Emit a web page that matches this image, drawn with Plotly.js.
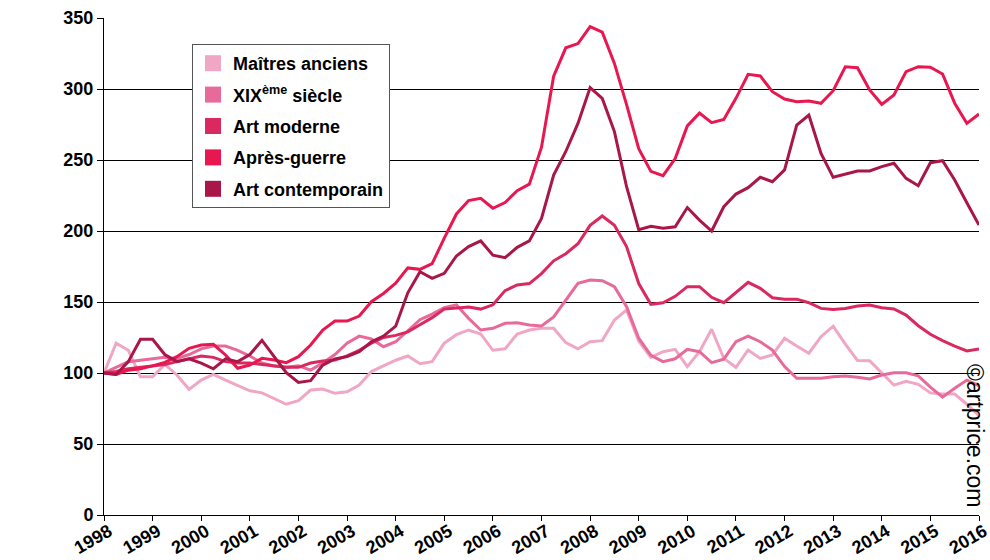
<!DOCTYPE html>
<html>
<head>
<meta charset="utf-8">
<script src="https://cdn.plot.ly/plotly-3.0.1.min.js"></script>
<style>
html,body{margin:0;padding:0;background:#fff;}
#chart{width:990px;height:560px;}
</style>
</head>
<body>
<div id="chart"></div>
<script>
// Quarterly index (base 100 = 1998)
const quarters = [
1998,1998.25,1998.5,1998.75,1999,1999.25,1999.5,1999.75,
2000,2000.25,2000.5,2000.75,2001,2001.25,2001.5,2001.75,
2002,2002.25,2002.5,2002.75,2003,2003.25,2003.5,2003.75,
2004,2004.25,2004.5,2004.75,2005,2005.25,2005.5,2005.75,
2006,2006.25,2006.5,2006.75,2007,2007.25,2007.5,2007.75,
2008,2008.25,2008.5,2008.75,2009,2009.25,2009.5,2009.75,
2010,2010.25,2010.5,2010.75,2011,2011.25,2011.5,2011.75,
2012,2012.25,2012.5,2012.75,2013,2013.25,2013.5,2013.75,
2014,2014.25,2014.5,2014.75,2015,2015.25,2015.5,2015.75,
2016];

const seriesNames = ["Maîtres anciens","XIX<sup>ème</sup> siècle","Art moderne","Après-guerre","Art contemporain"];
const seriesColors = ["#f0a6c5","#e86a9b","#d9295f","#e8174f","#a91649"];

const maitresAnciens = [100,121,116,97.4,97.4,106,98.6,88.5,95,99,
95,91.5,87.5,86,82,78,80.5,88,88.7,85.7,
86.8,91.5,101,105,109,112,106.5,108,121,127,
130.3,127.5,116,117,127.5,130.3,131.5,131.5,121.4,117,
122,122.8,137.3,144.4,122.5,111,115,116.7,104.5,115,
130.8,110.3,104,116.2,110.3,112.7,124.4,119,113.9,125.6,
133,120.3,108.8,108.7,100,91.5,94.2,92,86,85.2,
85.2,78,70];

const xixSiecle = [100,104,108,109,110,111,110,113,117,119,
119,116,112,107,105,104,105,102,107,113,
121,126,124,118.5,122,129.5,137.5,141.5,146,148,
138.5,130.3,131.5,135,135.4,133.8,133.1,139.5,151.4,163.2,
165.5,165,160.8,146.7,124.5,112.5,108,110,116.7,115,
107.3,109.7,122,126,122,116.2,104.5,96.3,96.3,96.3,
97.4,97.9,97,95.8,98.6,100.2,100.2,98,90,83,
89.2,95,91];

const artModerne = [100,101,103,104,105,106,108,110,112,111,
108,107,107,106,105,104,104,107,108.5,109.2,
112,116,121,125,126.5,129,134,139,145,146,
146.5,145,148,158,162,163,170,179,184,191,
204,210.6,204,189,163,148.4,149.5,154,160.8,160.8,
153.3,149.5,156.5,163.8,159.6,153,152,152,149.5,145.5,
144.8,145.5,147.2,147.9,146,145.1,140.8,133.3,127.3,122.8,
119,115.5,116.9];

const apresGuerre = [100,99,102,103,105,107.5,111.5,117.4,119.7,120.2,
112.7,103.3,105.6,110.3,109.2,107.3,111.5,119.7,130.3,136.6,
136.6,140.1,150.2,156,163.2,174,173,177,195,212,
221.4,223,216,220,228.4,233,259,309,329,332,
344,340,318,289,258,242,239,251,274,283,
276.3,278.6,293.4,310.3,309.2,298.1,292.9,291.1,291.5,289.9,
298.8,315.7,315,299.3,289.2,295.8,312.2,315.7,315.3,310.6,
290,275.8,282.4];

const artContemporain = [100,99,108,123.7,123.7,113,108,110,107,103,
110,108,113,123,111.5,100.2,93.4,94.6,105.6,109.9,
111.5,115,122,126,133,156.5,171.3,166.7,170.2,182.4,
189,193,183,181.2,188.5,193,208.9,239.4,256,275.8,
301,293.4,270,231.2,201,203.3,201.9,203,216.5,207.7,
200,217.1,226,230.5,237.8,234.7,243,274.6,281.7,254.7,
237.8,239.9,242.3,242.3,245.3,247.7,237.1,231.9,248.1,249.5,
235.9,219.9,204.2];

const yearTicks = [1998,1999,2000,2001,2002,2003,2004,2005,2006,2007,2008,2009,2010,2011,2012,2013,2014,2015,2016];
const yTicks = [0,50,100,150,200,250,300,350];

const allSeries = [maitresAnciens, xixSiecle, artModerne, apresGuerre, artContemporain];

const FONT = "'Liberation Sans', Arial, sans-serif";

const traces = [];
allSeries.forEach((vals, k) => {
  traces.push({
    type: 'scatter', mode: 'lines',
    x: quarters, y: vals,
    name: seriesNames[k],
    line: {color: seriesColors[k], width: 3},
    showlegend: false,
    hoverinfo: 'x+y+name'
  });
});
// legend entries (square swatches)
seriesNames.forEach((nm, k) => {
  traces.push({
    type: 'scatter', mode: 'markers',
    x: [null], y: [null],
    name: nm,
    legendgroup: 'g' + k,
    marker: {symbol: 'square', size: 16, color: seriesColors[k]},
    showlegend: true
  });
});

const layout = {
  width: 990, height: 560,
  margin: {l: 104, r: 11, t: 18, b: 45},
  paper_bgcolor: '#ffffff', plot_bgcolor: '#ffffff',
  showlegend: true,
  legend: {
    x: 0.1006, y: 0.9477, xanchor: 'left', yanchor: 'top',
    bgcolor: '#ffffff', bordercolor: '#555555', borderwidth: 1,
    font: {family: FONT, size: 18, color: '#000', weight: 'bold'},
    traceorder: 'grouped', tracegroupgap: 5
  },
  xaxis: {
    range: [1998, 2016],
    tickmode: 'array', tickvals: yearTicks, ticktext: yearTicks.map(String),
    tickangle: -30,
    ticks: 'outside', ticklen: 5, tickcolor: '#000', tickwidth: 1,
    ticklabelshift: 5, ticklabelstandoff: -7,
    ticklabeloverflow: 'allow',
    showline: true, linecolor: '#000', linewidth: 1,
    showgrid: false, zeroline: false,
    tickfont: {family: FONT, size: 18, color: '#000', weight: 'bold'},
    automargin: false, fixedrange: true
  },
  yaxis: {
    range: [0, 350],
    tickmode: 'array', tickvals: yTicks,
    ticks: 'outside', ticklen: 6, tickcolor: '#000', tickwidth: 1,
    showline: true, linecolor: '#000', linewidth: 1,
    showgrid: true, gridcolor: '#000', gridwidth: 1,
    zeroline: false,
    tickfont: {family: FONT, size: 18, color: '#000', weight: 'bold'},
    automargin: false, fixedrange: true
  },
  annotations: [{
    xref: 'paper', yref: 'paper',
    x: 0.9954, y: 0.159, xanchor: 'center', yanchor: 'middle',
    text: '©artprice.com', showarrow: false, textangle: 90,
    font: {family: FONT, size: 23, color: '#000'}
  }]
};

Plotly.newPlot('chart', traces, layout, {displayModeBar: false, staticPlot: true});
</script>
</body>
</html>
